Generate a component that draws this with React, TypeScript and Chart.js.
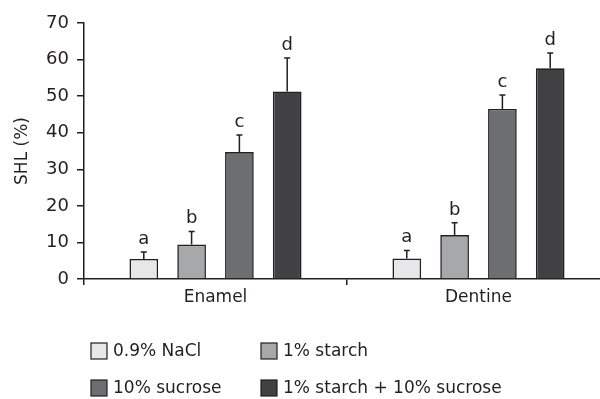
import React, { useEffect, useRef } from "react";
import { Chart, registerables } from "chart.js";

Chart.register(...registerables);

const categories = ["Enamel", "Dentine"];
const seriesLabels = ["0.9% NaCl", "1% starch", "10% sucrose", "1% starch + 10% sucrose"];
const naclValues = [5.5, 5.6];
const starchValues = [9.4, 12.0];
const sucroseValues = [34.7, 46.5];
const comboValues = [51.3, 57.6];
const naclErrors = [1.9, 2.2];
const starchErrors = [3.6, 3.4];
const sucroseErrors = [4.7, 3.8];
const comboErrors = [9.1, 4.2];
const naclLetters = ["a", "a"];
const starchLetters = ["b", "b"];
const sucroseLetters = ["c", "c"];
const comboLetters = ["d", "d"];
const yTicks = [0, 10, 20, 30, 40, 50, 60, 70];

const colors = ["#e6e7e8", "#a7a8aa", "#6d6e71", "#414042"];
const INK = "#231f20";
const FONT = "'DejaVu Sans', sans-serif";

const values = [naclValues, starchValues, sucroseValues, comboValues];
const errors = [naclErrors, starchErrors, sucroseErrors, comboErrors];
const letters = [naclLetters, starchLetters, sucroseLetters, comboLetters];

const errorPlugin = {
  id: "errorLetters",
  afterDatasetsDraw(chart: any) {
    const ctx = chart.ctx;
    const y = chart.scales.y;
    ctx.save();
    chart.data.datasets.forEach((ds: any, i: number) => {
      const meta = chart.getDatasetMeta(i);
      meta.data.forEach((el: any, j: number) => {
        const v = ds.data[j];
        const e = ds.errors[j];
        const yTop = y.getPixelForValue(v + e);
        ctx.strokeStyle = INK;
        ctx.lineWidth = 1.5;
        ctx.beginPath();
        ctx.moveTo(el.x, el.y);
        ctx.lineTo(el.x, yTop);
        ctx.moveTo(el.x - 3, yTop);
        ctx.lineTo(el.x + 3, yTop);
        ctx.stroke();
        ctx.fillStyle = INK;
        ctx.font = "18px " + FONT;
        ctx.textAlign = "center";
        ctx.textBaseline = "alphabetic";
        ctx.fillText(ds.letters[j], el.x, yTop - 8);
      });
    });
    ctx.restore();
  },
};

const legendPlugin = {
  id: "gridLegend",
  afterDraw(chart: any) {
    const ctx = chart.ctx;
    const cols = [91, 261];
    const rows = [343, 380];
    ctx.save();
    chart.data.datasets.forEach((ds: any, i: number) => {
      const bx = cols[i % 2];
      const by = rows[Math.floor(i / 2)];
      ctx.fillStyle = ds.backgroundColor;
      ctx.fillRect(bx, by, 16, 16);
      ctx.strokeStyle = INK;
      ctx.lineWidth = 1.2;
      ctx.strokeRect(bx, by, 16, 16);
      ctx.fillStyle = INK;
      ctx.font = "17px " + FONT;
      ctx.textAlign = "left";
      ctx.textBaseline = "middle";
      ctx.fillText(ds.label, bx + 22, by + 9);
    });
    ctx.restore();
  },
};

export default function App() {
  const ref = useRef<HTMLCanvasElement>(null);
  useEffect(() => {
    if (!ref.current) return;
    const chart = new Chart(ref.current, {
      type: "bar",
      data: {
        labels: categories,
        datasets: seriesLabels.map((label, i) => ({
          label,
          data: values[i],
          errors: errors[i],
          letters: letters[i],
          backgroundColor: colors[i],
          borderColor: INK,
          borderWidth: 1.6,
          categoryPercentage: 0.727,
          barPercentage: 0.6,
        })) as any,
      },
      options: {
        responsive: false,
        animation: false,
        devicePixelRatio: 1,
        layout: { padding: { top: 23, right: 10, left: 0, bottom: 0 } },
        plugins: { legend: { display: false }, tooltip: { enabled: false } },
        scales: {
          x: {
            type: "category",
            grid: {
              offset: true,
              drawOnChartArea: false,
              drawTicks: true,
              tickLength: 6,
              color: INK,
              lineWidth: 1.5,
            },
            border: { color: INK, width: 1.5 },
            ticks: { color: INK, font: { family: FONT, size: 17 }, padding: 2 },
            afterFit: (s: any) => {
              s.height = 120;
            },
          },
          y: {
            min: 0,
            max: 70,
            afterBuildTicks: (s: any) => {
              s.ticks = yTicks.map((v) => ({ value: v }));
            },
            grid: {
              drawOnChartArea: false,
              drawTicks: true,
              tickLength: 7,
              color: INK,
              lineWidth: 1.5,
            },
            border: { color: INK, width: 1.5 },
            ticks: { color: INK, font: { family: FONT, size: 18 }, padding: 8 },
            title: {
              display: true,
              text: "SHL (%)",
              color: INK,
              font: { family: FONT, size: 17 },
              padding: { top: 12, bottom: 0 },
            },
            afterFit: (s: any) => {
              s.width = 84;
            },
          },
        },
      },
      plugins: [errorPlugin, legendPlugin],
    });
    return () => chart.destroy();
  }, []);
  return (
    <div style={{ position: "fixed", left: 0, top: 0, width: 600, height: 399, overflow: "hidden", background: "#fff" }}>
      <canvas ref={ref} width={620} height={399} style={{ display: "block" }} />
    </div>
  );
}
